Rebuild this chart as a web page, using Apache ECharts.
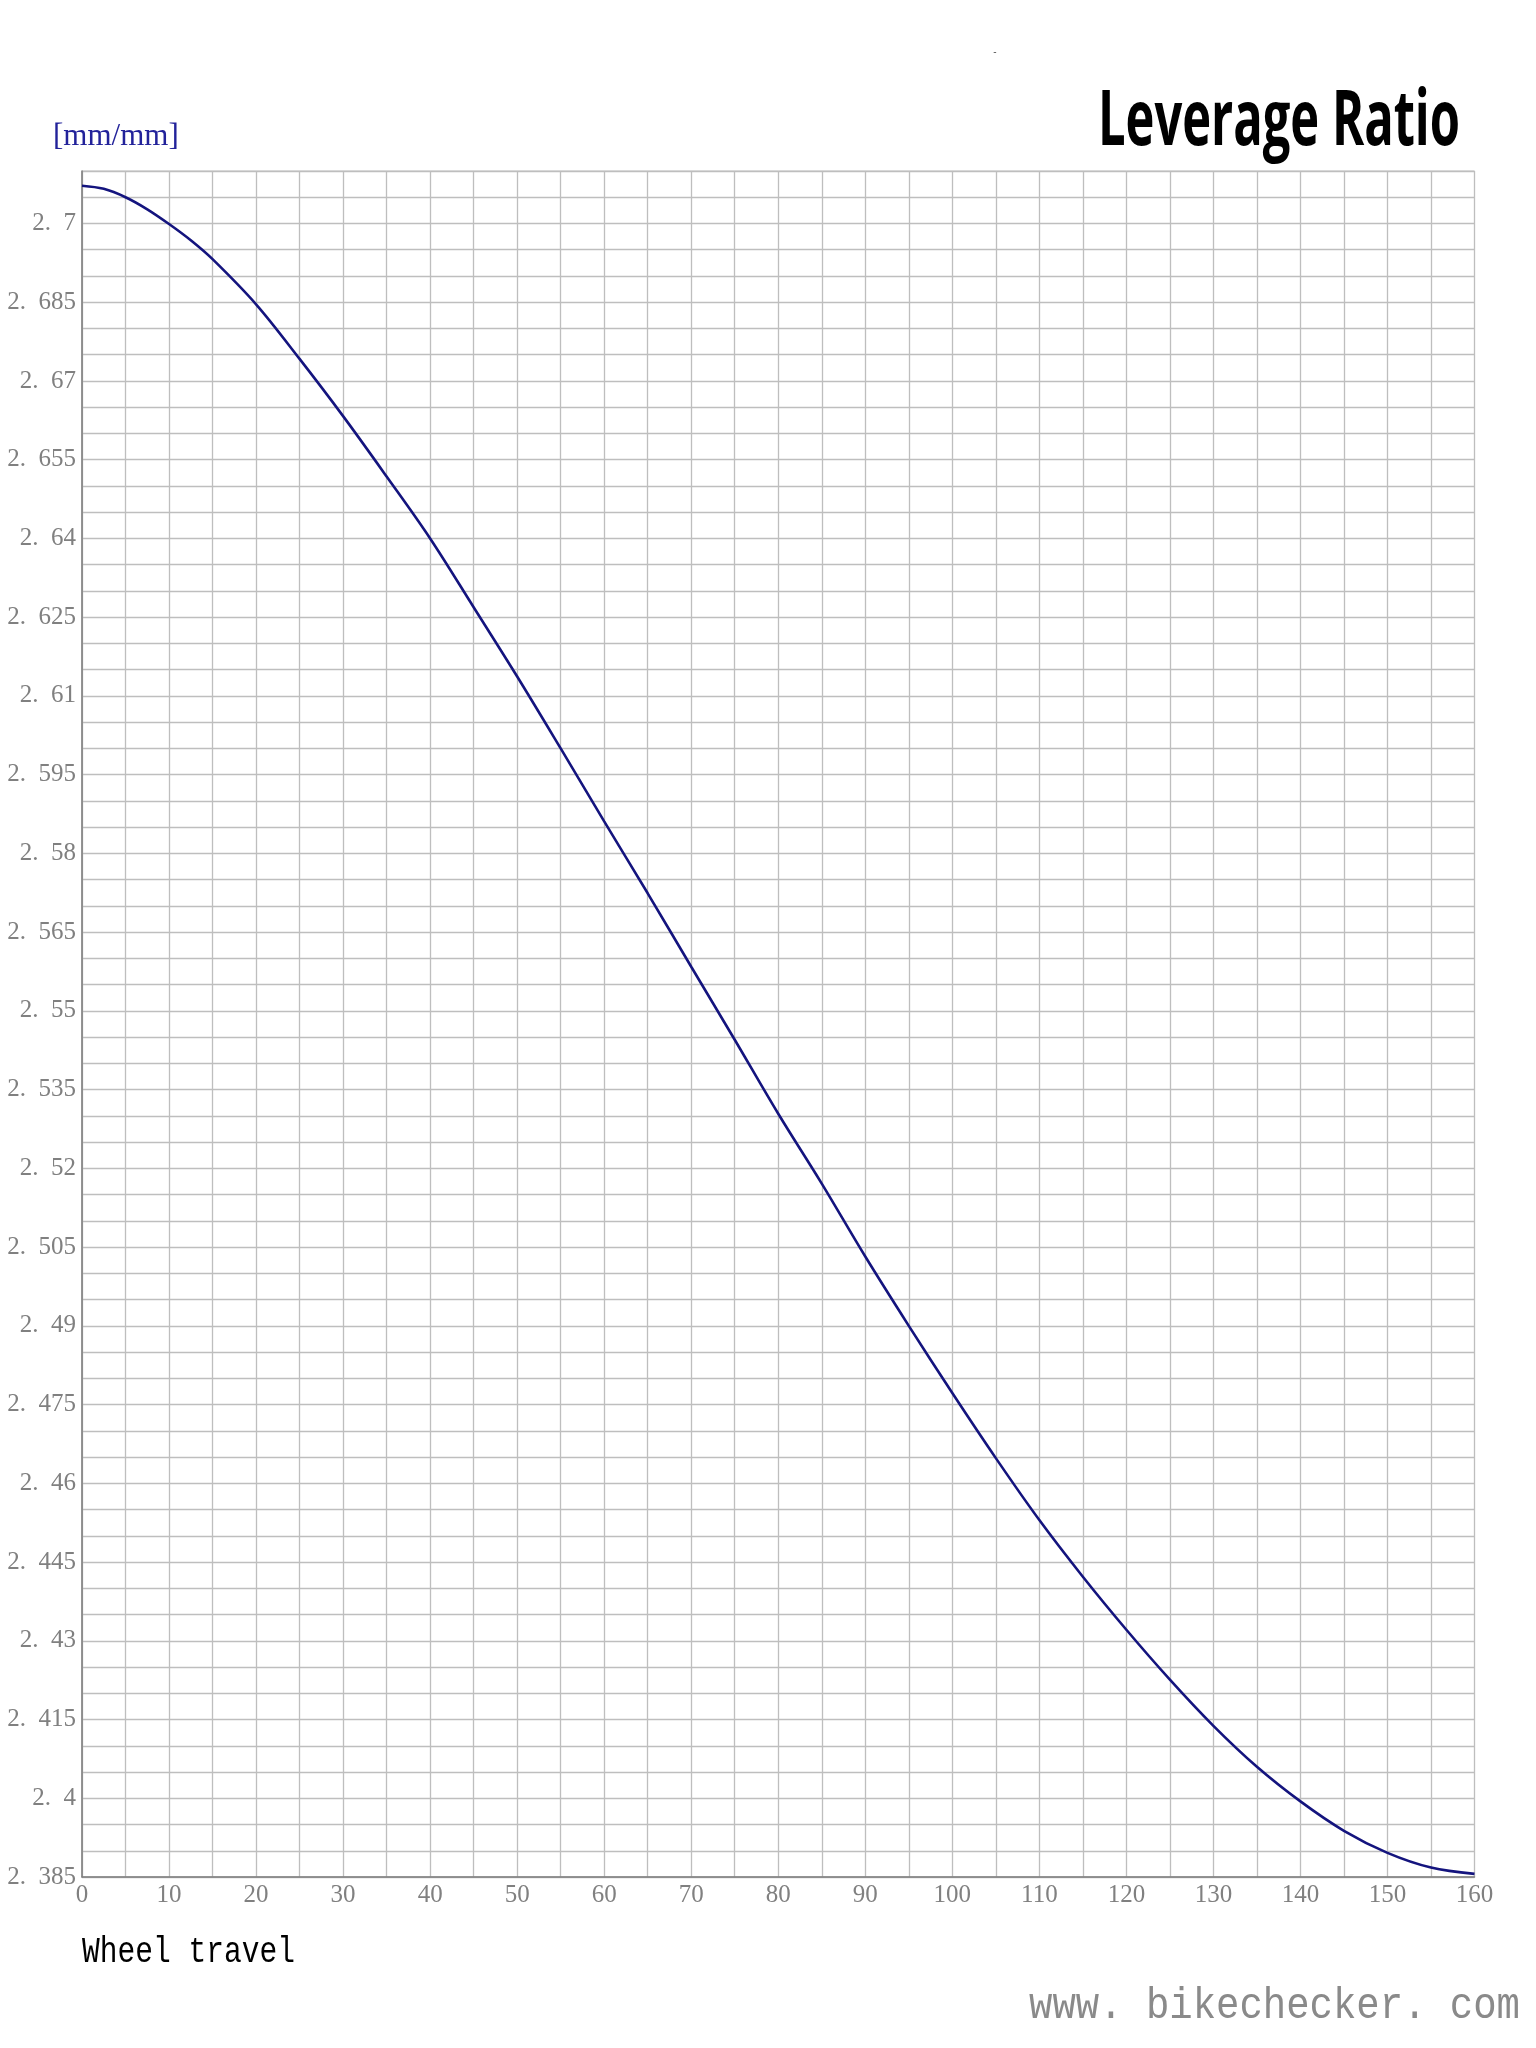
<!DOCTYPE html>
<html>
<head>
<meta charset="utf-8">
<script src="https://cdn.jsdelivr.net/npm/echarts@6/dist/echarts.min.js"></script>
<style>
  html, body { margin: 0; padding: 0; background: #ffffff; }
  #chart { width: 1536px; height: 2048px; }
</style>
</head>
<body>
<div id="chart"></div>
<script>
// ---- data ----
const wheelTravel = [0, 2.5, 5, 7.5, 10, 12.5, 15, 20, 25, 30, 35, 40, 45, 50, 55, 60, 65, 70, 75, 80,
  85, 90, 95, 100, 105, 110, 115, 120, 125, 130, 135, 140, 145, 150, 155, 160];
const leverageRatio = [2.7072, 2.7066, 2.7050, 2.7027, 2.6999, 2.6968, 2.6932, 2.6846, 2.6742, 2.6633,
  2.6518, 2.6400, 2.6269, 2.6137, 2.6000, 2.5861, 2.5724, 2.5584, 2.5445, 2.5304,
  2.5171, 2.5032, 2.4900, 2.4772, 2.4648, 2.4530, 2.4422, 2.4321, 2.4226, 2.4138,
  2.4060, 2.3994, 2.3938, 2.3896, 2.3868, 2.3856];
const xTickLabels = ['0', '10', '20', '30', '40', '50', '60', '70', '80', '90', '100', '110', '120', '130', '140', '150', '160'];
const yTickLabels = ['2. 385', '2. 4', '2. 415', '2. 43', '2. 445', '2. 46', '2. 475', '2. 49', '2. 505', '2. 52',
  '2. 535', '2. 55', '2. 565', '2. 58', '2. 595', '2. 61', '2. 625', '2. 64', '2. 655', '2. 67', '2. 685', '2. 7'];
const titleText = 'Leverage Ratio';
const unitText = '[mm/mm]';
const xNameText = 'Wheel travel';
const watermarkText = 'www. bikechecker. com';

// ---- helpers ----
const mctx = document.createElement('canvas').getContext('2d');
function fitScale(text, font, targetWidth) {
  mctx.font = font;
  const w = mctx.measureText(text).width;
  return w > 0 ? targetWidth / w : 1;
}

const seriesData = wheelTravel.map((t, i) => [t, leverageRatio[i]]);

const titleFont = 'bold 77px "Open Sans"';
const xNameFont = '36px "Liberation Mono"';
const wmFont = '45px "Liberation Mono"';

const chart = echarts.init(document.getElementById('chart'), null, { renderer: 'canvas' });
chart.setOption({
  animation: false,
  backgroundColor: '#ffffff',
  grid: {
    left: 82, right: 61.5, top: 171, bottom: 171,
    show: true, borderColor: '#bebebe', borderWidth: 1,
    containLabel: false, outerBoundsMode: 'none'
  },
  xAxis: {
    type: 'value', min: 0, max: 160, interval: 5,
    axisLine: { show: true, onZero: false, lineStyle: { color: '#7d7d7d', width: 1.5 } },
    axisTick: { show: false },
    splitLine: { show: true, lineStyle: { color: '#bebebe', width: 1.3 } },
    axisLabel: {
      margin: 6, color: '#808080', fontFamily: 'Liberation Serif', fontSize: 25,
      formatter: (v) => {
        const k = Math.round(v / 5);
        return k % 2 === 0 ? (xTickLabels[k / 2] || '') : '';
      }
    }
  },
  yAxis: {
    type: 'value', min: 2.385, max: 2.71, interval: 0.005,
    axisLine: { show: true, onZero: false, lineStyle: { color: '#7d7d7d', width: 1.5 } },
    axisTick: { show: false },
    splitLine: { show: true, lineStyle: { color: '#bebebe', width: 1.3 } },
    axisLabel: {
      margin: 6, color: '#808080', fontFamily: 'Liberation Serif', fontSize: 25,
      formatter: (v) => {
        const k = Math.round((v - 2.385) / 0.005);
        if (k % 3 !== 0) return '';
        const s = yTickLabels[k / 3];
        return s ? s.replace(' ', '\u2002') : '';
      }
    }
  },
  series: [{
    type: 'line',
    data: seriesData,
    showSymbol: false,
    smooth: 0.35,
    lineStyle: { color: '#14147e', width: 2.6 },
    clip: true
  }],
  graphic: [
    {
      type: 'text', x: 1460, y: 123,
      scaleX: fitScale(titleText, titleFont, 362),
      style: { text: titleText, fontFamily: 'Open Sans', fontWeight: 'bold', fontSize: 77,
        fill: '#000000', align: 'right', verticalAlign: 'middle' }
    },
    {
      type: 'text', x: 53, y: 137,
      style: { text: unitText, fontFamily: 'Liberation Serif', fontSize: 31,
        fill: '#22229a', align: 'left', verticalAlign: 'middle' }
    },
    {
      type: 'text', x: 82, y: 1952,
      scaleX: fitScale(xNameText, xNameFont, 213),
      style: { text: xNameText, fontFamily: 'Liberation Mono', fontSize: 36,
        fill: '#000000', align: 'left', verticalAlign: 'middle' }
    },
    {
      type: 'text', x: 1029, y: 2006,
      scaleX: fitScale(watermarkText, wmFont, 491),
      style: { text: watermarkText, fontFamily: 'Liberation Mono', fontSize: 45,
        fill: '#8a8a8a', align: 'left', verticalAlign: 'middle' }
    },
    {
      type: 'text', x: 995, y: 52,
      style: { text: '-', fontFamily: 'Liberation Sans', fontSize: 10,
        fill: '#555555', align: 'center', verticalAlign: 'middle' }
    }
  ]
});
</script>
</body>
</html>
